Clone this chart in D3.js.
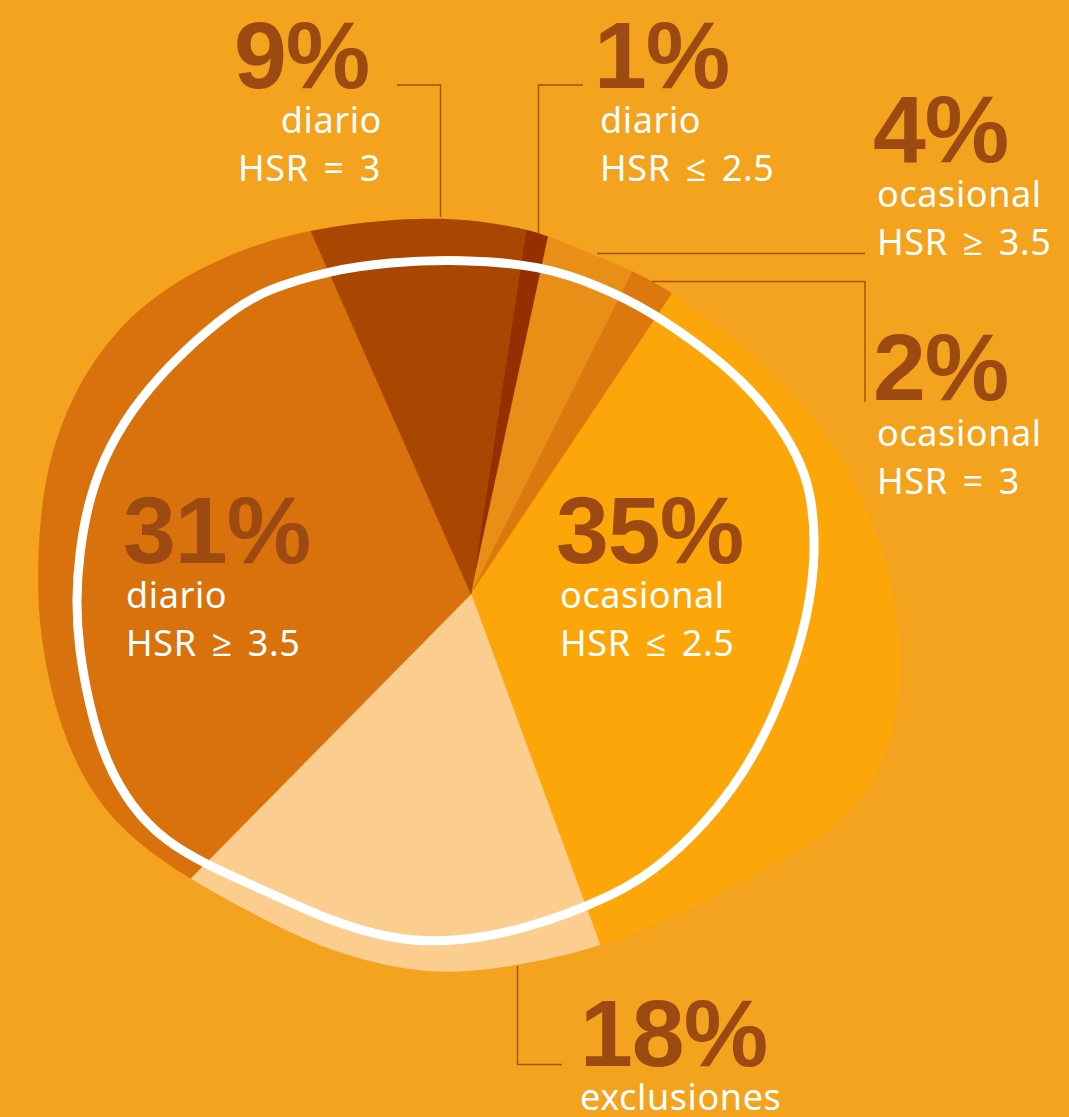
<!DOCTYPE html>
<html>
<head>
<meta charset="utf-8">
<script src="https://cdn.jsdelivr.net/npm/d3@7"></script>
<style>
  html, body { margin: 0; padding: 0; background: #F3A31D; }
  svg { display: block; }
</style>
</head>
<body>
<svg id="chart" width="1069" height="1117"></svg>
<script>
// ---------------- DATA ----------------
const categories = ["diario HSR ≤ 2.5", "ocasional HSR ≥ 3.5", "ocasional HSR = 3",
                    "ocasional HSR ≤ 2.5", "exclusiones", "diario HSR ≥ 3.5", "diario HSR = 3"];
const values = [1, 4, 2, 35, 18, 31, 9];
const percentLabels = ["1%", "4%", "2%", "35%", "18%", "31%", "9%"];
const subLabels = [
  ["diario", "HSR ≤ 2.5"],
  ["ocasional", "HSR ≥ 3.5"],
  ["ocasional", "HSR = 3"],
  ["ocasional", "HSR ≤ 2.5"],
  ["exclusiones"],
  ["diario", "HSR ≥ 3.5"],
  ["diario", "HSR = 3"]
];

// ---------------- STYLE / LAYOUT ----------------
const sliceColors = ["#952F00", "#E98F17", "#DC780D", "#FCA609", "#FBCD8F", "#D9720C", "#A94602"];
const bg = "#F3A31D";
const numColor = "#9D4A12";
const lineColor = "#A4500F";
const cx = 471, cy = 594;
const startDeg = 8.6;

// outer blob profile (angle in degrees, radius)
const blobAngles = [0, 8.7, 11.6, 27, 33.9, 45.9, 59.5, 72.3, 79.5, 88.5, 99.6, 108.2, 116.7, 125.4, 135.4, 149, 160.2, 172.9, 182.7, 190.7, 201.6, 212.3, 225, 235.5, 244.4, 254, 262.9, 270, 279.7, 288.5, 297.7, 306.7, 315.3, 325.1, 335.9, 350.3];
const blobRadii  = [375, 369, 367, 362, 363, 366, 383, 399, 407, 423, 438, 446, 445, 426, 398, 381, 376, 375, 380, 382, 384, 386, 402, 422, 431, 432, 432, 434, 438, 444, 446, 443, 433, 417, 400, 382];

// white outline profile
const ringAngles = [358.1, 11.9, 22.8, 32.4, 42.8, 51.5, 59.6, 67.2, 73.4, 82.7, 93.9, 105.7, 118.6, 131.3, 143.6, 153.5, 172.2, 184.6, 193, 203, 214.6, 224.5, 231, 237.8, 245.5, 253.5, 262.3, 269.1, 276, 284.3, 292.2, 300.4, 309.9, 320, 326.1, 336.4, 346];
const ringRadii  = [335, 336, 334, 335, 338, 345, 351, 355, 355, 348, 338, 329, 327, 328, 331, 335, 342, 350, 354, 356, 361, 379, 393, 401, 402, 398, 396, 395, 394, 394, 391, 385, 377, 371, 367, 353, 342];

// label layout per slice
const labelLayout = [
  {nx: 594, ny: 88,  sx: 600, sy: 133},
  {nx: 873, ny: 162, sx: 877, sy: 207},
  {nx: 873, ny: 400, sx: 877, sy: 446},
  {nx: 556, ny: 563, sx: 560, sy: 608},
  {nx: 580, ny: 1066, sx: 580, sy: 1110},
  {nx: 123, ny: 563, sx: 126, sy: 608},
  {nx: 234, ny: 88,  sx: 238, sy: 133, firstAnchorEnd: 382}
];
const subLineGap = 48;

const leaders = [
  [[583, 85], [538.5, 85], [538.5, 234]],
  [[597, 253.5], [865, 253.5]],
  [[652, 281.5], [865, 281.5], [865, 402]],
  [[517.5, 966], [517.5, 1064.5], [562, 1064.5]],
  [[397, 85], [440.5, 85], [440.5, 217]]
];

// ---------------- DRAW ----------------
const svg = d3.select("#chart");
svg.append("rect").attr("width", 1069).attr("height", 1117).attr("fill", bg);

const toRad = d3.scaleLinear().domain([0, 360]).range([0, 2 * Math.PI]);

const radial = d3.lineRadial()
  .angle(d => toRad(d[0]))
  .radius(d => d[1])
  .curve(d3.curveBasisClosed);

const blobPts = blobAngles.map((a, i) => [a, blobRadii[i]]);
const ringPts = ringAngles.map((a, i) => [a, ringRadii[i]]);

svg.append("defs").append("clipPath").attr("id", "blob")
  .append("path").attr("d", radial(blobPts)).attr("transform", `translate(${cx},${cy})`);

const pie = d3.pie().sort(null).value(d => d)
  .startAngle(toRad(startDeg)).endAngle(toRad(startDeg + 360));
const arcs = pie(values);
const arc = d3.arc().innerRadius(0).outerRadius(520);

const g = svg.append("g").attr("clip-path", "url(#blob)")
  .append("g").attr("transform", `translate(${cx},${cy})`);
g.selectAll("path.slice").data(arcs).join("path")
  .attr("class", "slice")
  .attr("d", arc)
  .attr("fill", (d, i) => sliceColors[i])
  .attr("stroke", (d, i) => sliceColors[i])
  .attr("stroke-width", 0.6);

// white outline
svg.append("path")
  .attr("transform", `translate(${cx},${cy})`)
  .attr("d", radial(ringPts))
  .attr("fill", "none")
  .attr("stroke", "#FFFFFF")
  .attr("stroke-width", 9);

// leader lines
const line = d3.line();
svg.selectAll("path.leader").data(leaders).join("path")
  .attr("class", "leader")
  .attr("d", line)
  .attr("fill", "none")
  .attr("stroke", lineColor)
  .attr("stroke-width", 1.4);

// labels
const labels = svg.selectAll("g.label").data(arcs).join("g").attr("class", "label");
labels.append("text")
  .attr("x", (d, i) => labelLayout[i].nx)
  .attr("y", (d, i) => labelLayout[i].ny)
  .attr("font-family", "'Liberation Sans', Arial, sans-serif")
  .attr("font-weight", 700)
  .attr("font-size", 95)
  .attr("letter-spacing", -1)
  .attr("fill", numColor)
  .text((d, i) => percentLabels[i]);

labels.each(function(d, i) {
  const L = labelLayout[i];
  subLabels[i].forEach((s, j) => {
    const useEnd = (L.firstAnchorEnd && j === 0);
    d3.select(this).append("text")
      .attr("x", useEnd ? L.firstAnchorEnd : L.sx)
      .attr("y", L.sy + j * subLineGap)
      .attr("text-anchor", useEnd ? "end" : "start")
      .attr("font-family", "'Noto Sans', 'Open Sans', sans-serif")
      .attr("font-size", 36)
      .attr("letter-spacing", 0.6)
      .attr("word-spacing", 5)
      .attr("fill", "#FFFFFF")
      .text(s);
  });
});
</script>
</body>
</html>
